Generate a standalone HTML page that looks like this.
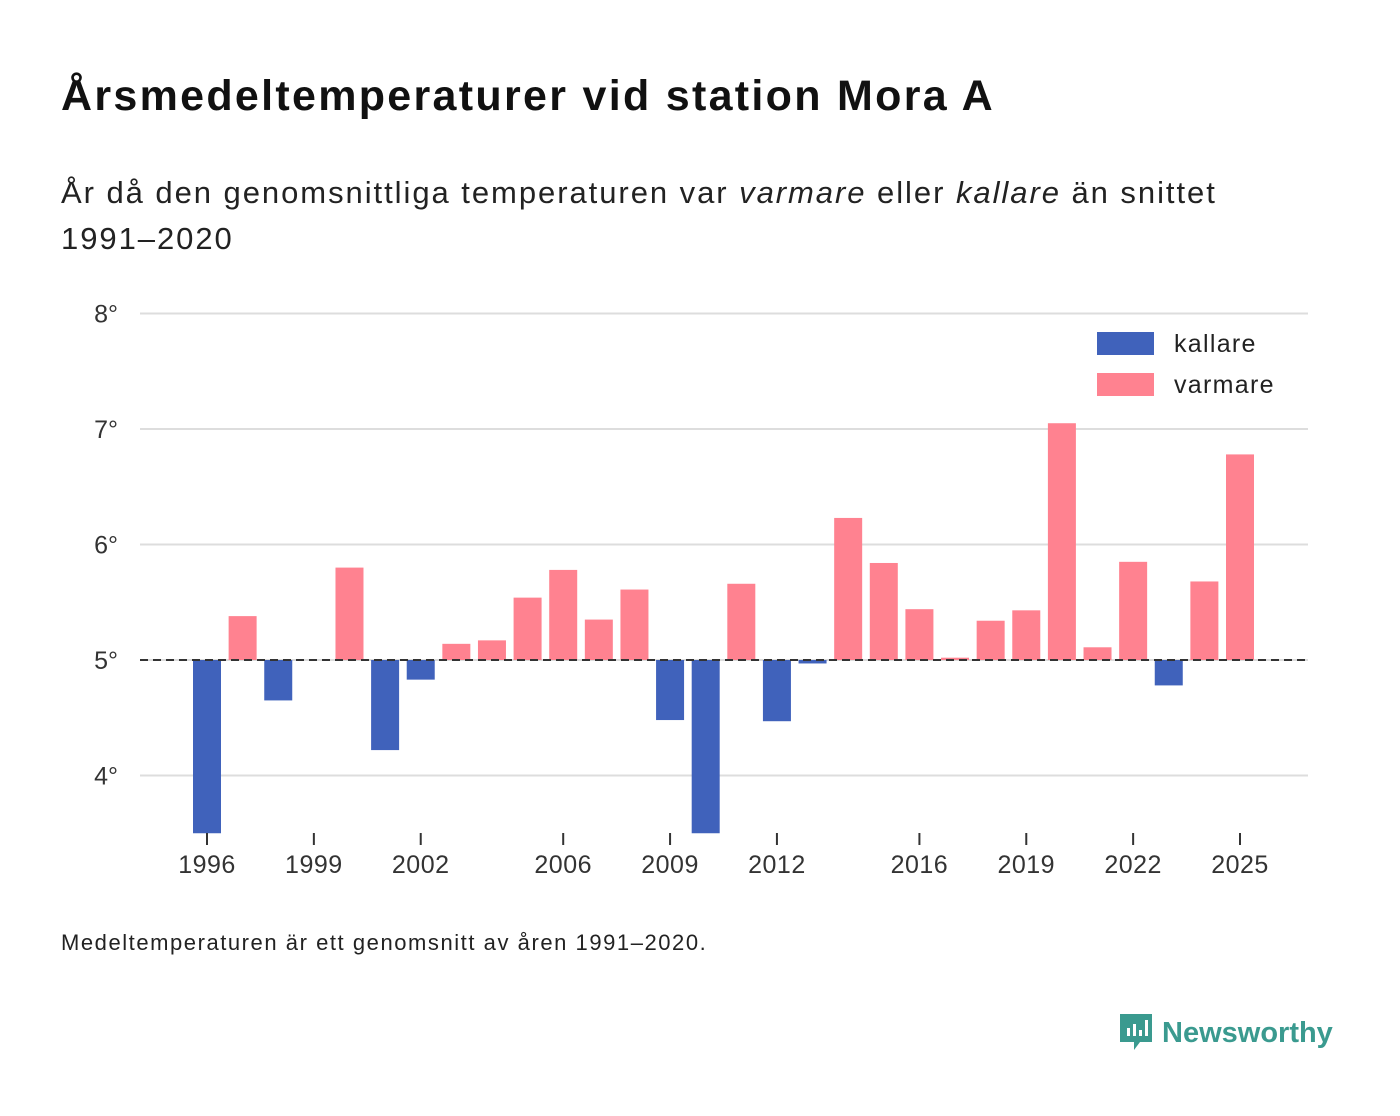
<!DOCTYPE html>
<html><head><meta charset="utf-8"><style>
body{margin:0;background:#fff;font-family:"Liberation Sans",sans-serif;color:#111;}
#wrap{position:relative;width:1400px;height:1116px;overflow:hidden;}
h1{position:absolute;left:61px;top:72px;margin:0;font-size:43px;font-weight:bold;letter-spacing:2.3px;white-space:nowrap;}
.sub{position:absolute;left:61px;top:170px;margin:0;font-size:31px;line-height:46px;color:#222;width:1200px;letter-spacing:1.95px;}
.foot{position:absolute;left:61px;top:930px;font-size:22px;color:#222;letter-spacing:1.55px;}
.logo{position:absolute;left:1118px;top:1012px;display:flex;align-items:center;gap:8px;color:#3a9a8f;font-size:29px;font-weight:bold;}
</style></head><body><div id="wrap">
<h1>Årsmedeltemperaturer vid station Mora A</h1>
<p class="sub">År då den genomsnittliga temperaturen var <i>varmare</i> eller <i>kallare</i> än snittet 1991–2020</p>
<svg id="chart" width="1400" height="1116" style="position:absolute;left:0;top:0"></svg>
<div class="foot">Medeltemperaturen är ett genomsnitt av åren 1991–2020.</div>
<div class="logo"><svg width="36" height="42" viewBox="0 0 36 42"><path d="M2 2h32v28H22l-6 8v-8H2z" fill="#3a9a8f"/><rect x="9" y="16" width="3" height="8" fill="#fff"/><rect x="15" y="12" width="3" height="12" fill="#fff"/><rect x="21" y="18" width="3" height="6" fill="#fff"/><rect x="27" y="8" width="3" height="16" fill="#fff"/></svg><span>Newsworthy</span></div>
</div>
<script>
const years=[1996,1997,1998,1999,2000,2001,2002,2003,2004,2005,2006,2007,2008,2009,2010,2011,2012,2013,2014,2015,2016,2017,2018,2019,2020,2021,2022,2023,2024,2025];
const temps=[3.5,5.38,4.65,5.0,5.8,4.22,4.83,5.14,5.17,5.54,5.78,5.35,5.61,4.48,3.5,5.66,4.47,4.97,6.23,5.84,5.44,5.02,5.34,5.43,7.05,5.11,5.85,4.78,5.68,6.78];
const yTicks=[4,5,6,7,8];
const xTicks=[1996,1999,2002,2006,2009,2012,2016,2019,2022,2025];
const baseline=5;
const NS="http://www.w3.org/2000/svg",svg=document.getElementById('chart');
const x=v=>207+(v-1996)*(1240-207)/29;
const y=v=>660-(v-5)*115.5;
const yMin=3.5;
function mk(t,a){const e=document.createElementNS(NS,t);for(const k in a)e.setAttribute(k,a[k]);svg.appendChild(e);return e;}
yTicks.forEach(t=>{
 const l=mk('line',{x1:140,x2:1308,y1:y(t),y2:y(t),stroke:'#ddd','stroke-width':2});
 
 
 const tx=mk('text',{x:118,y:y(t)+9,'text-anchor':'end','font-size':25,fill:'#333','font-family':'Liberation Sans, sans-serif'});
 tx.textContent=t+'°';
 
 
});
years.forEach((yr,i)=>{
 const v=Math.max(temps[i],yMin);
 const top=Math.min(y(v),y(baseline)),h=Math.abs(y(v)-y(baseline));
 const r=mk('rect',{x:x(yr)-14,y:top,width:28,height:Math.max(h,0),fill:temps[i]<baseline?'#4062bb':'#ff8290'});
 
 
});
const bl=mk('line',{x1:140,x2:1308,y1:y(baseline),y2:y(baseline),stroke:'#333','stroke-width':2,'stroke-dasharray':'8,5'});


xTicks.forEach(t=>{
 const l=mk('line',{x1:x(t),x2:x(t),y1:833,y2:845,stroke:'#333','stroke-width':2});
 
 
 const tx=mk('text',{x:x(t),y:873,'text-anchor':'middle','font-size':25,fill:'#333','font-family':'Liberation Sans, sans-serif','letter-spacing':0.5});
 tx.textContent=t;
 
 
});
[['kallare','#4062bb',332],['varmare','#ff8290',373]].forEach(([n,c,yy])=>{
 const r=mk('rect',{x:1097,y:yy,width:57,height:23,fill:c});
 
 
 const t=mk('text',{x:1174,y:yy+20,'font-size':25,fill:'#222','font-family':'Liberation Sans, sans-serif','letter-spacing':1.3});
 t.textContent=n;
 
 
});
</script></body></html>
